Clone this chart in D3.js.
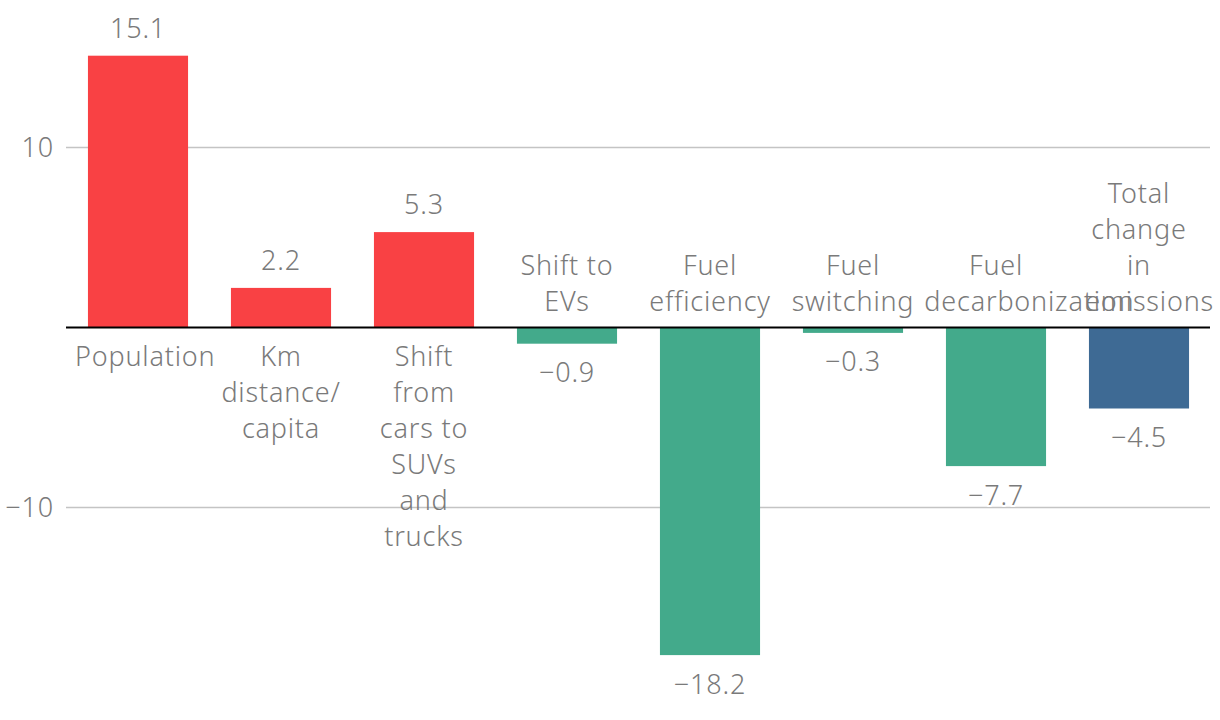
<!DOCTYPE html>
<html>
<head>
<meta charset="utf-8">
<script src="https://cdn.jsdelivr.net/npm/d3@7"></script>
<style>
  html, body { margin: 0; padding: 0; background: #fff; }
  svg { display: block; font-family: "Noto Sans", "Open Sans", sans-serif; font-weight: 300; }
</style>
</head>
<body>
<svg id="chart" width="1220" height="720"></svg>
<script>
const categories = [
  "Population",
  "Km distance/ capita",
  "Shift from cars to SUVs and trucks",
  "Shift to EVs",
  "Fuel efficiency",
  "Fuel switching",
  "Fuel decarbonization",
  "Total change in emissions"
];
const categoryLines = [
  ["Population"],
  ["Km", "distance/", "capita"],
  ["Shift", "from", "cars to", "SUVs", "and", "trucks"],
  ["Shift to", "EVs"],
  ["Fuel", "efficiency"],
  ["Fuel", "switching"],
  ["Fuel", "decarbonization"],
  ["Total", "change", "in", "emissions"]
];
const values = [15.1, 2.2, 5.3, -0.9, -18.2, -0.3, -7.7, -4.5];
const groups = ["increase", "increase", "increase", "decrease", "decrease", "decrease", "decrease", "total"];
const yTicks = [-10, 10];

const colorOf = d3.scaleOrdinal()
  .domain(["increase", "decrease", "total"])
  .range(["#F94144", "#43AA8B", "#3E6A94"]);

const W = 1220;
const svg = d3.select("#chart");
const x = d3.scaleBand().domain(categories).range([66.5, 1210.5]).paddingInner(0.3).paddingOuter(0.15);
const y = d3.scaleLinear().domain([0, 10]).range([327.5, 147.5]);

const textColor = "#7a7a7a";
const fs = 27;
const ls = "0.8px";

// gridlines + y labels
const grid = svg.append("g");
grid.selectAll("line").data(yTicks).join("line")
  .attr("x1", 66).attr("x2", 1210)
  .attr("y1", d => y(d)).attr("y2", d => y(d))
  .attr("stroke", "#c4c4c4").attr("stroke-width", 1.5);
grid.selectAll("text").data(yTicks).join("text")
  .attr("x", 54).attr("y", d => y(d) + 9.5)
  .attr("text-anchor", "end").attr("font-size", fs).attr("fill", textColor)
  .attr("letter-spacing", ls)
  .text(d => d3.format("")(d).replace("-", "\u2212"));

const data = categories.map((c, i) => ({ c, v: values[i], g: groups[i], lines: categoryLines[i] }));

// bars
svg.append("g").selectAll("rect").data(data).join("rect")
  .attr("x", d => x(d.c))
  .attr("width", x.bandwidth())
  .attr("y", d => Math.min(y(d.v), y(0)))
  .attr("height", d => Math.abs(y(d.v) - y(0)))
  .attr("fill", d => colorOf(d.g));

// zero line
svg.append("line")
  .attr("x1", 66).attr("x2", 1210).attr("y1", y(0)).attr("y2", y(0))
  .attr("stroke", "#000").attr("stroke-width", 2);

// value labels
svg.append("g").selectAll("text").data(data).join("text")
  .attr("x", d => x(d.c) + x.bandwidth() / 2)
  .attr("y", d => d.v >= 0 ? y(d.v) - 18 : y(d.v) + 38.5)
  .attr("text-anchor", "middle").attr("font-size", fs).attr("fill", textColor)
  .attr("letter-spacing", ls)
  .attr("stroke", "#fff").attr("stroke-width", 4).attr("paint-order", "stroke")
  .attr("stroke-linejoin", "round")
  .text(d => d3.format(".1f")(d.v).replace("-", "\u2212"));

// category labels: one text per line, then nudge overlapping lines on the same row
const lh = 36;
const lineItems = [];
data.forEach(d => {
  const top = d.v >= 0 ? y(0) + 38.5 : y(0) - 17 - (d.lines.length - 1) * lh;
  d.lines.forEach((l, i) => lineItems.push({ l, d, cx: x(d.c) + x.bandwidth() / 2, by: top + i * lh }));
});
const catText = svg.append("g").selectAll("text").data(lineItems).join("text")
  .attr("font-size", fs).attr("fill", textColor).attr("letter-spacing", ls)
  .attr("text-anchor", "start")
  .attr("y", t => t.by)
  .text(t => t.l);
catText.each(function (t) { t.w = this.getComputedTextLength(); });
const rows = d3.group(lineItems, t => Math.round(t.by));
rows.forEach(items => {
  let prevRight = -Infinity;
  items.sort((a, b) => a.cx - b.cx).forEach(t => {
    let x0 = t.cx - t.w / 2;
    x0 = Math.max(x0, 75, prevRight + 10);
    x0 = Math.min(x0, W - 6 - t.w);
    t.x0 = x0;
    prevRight = x0 + t.w;
  });
});
catText.attr("x", t => t.x0);
</script>
</body>
</html>
